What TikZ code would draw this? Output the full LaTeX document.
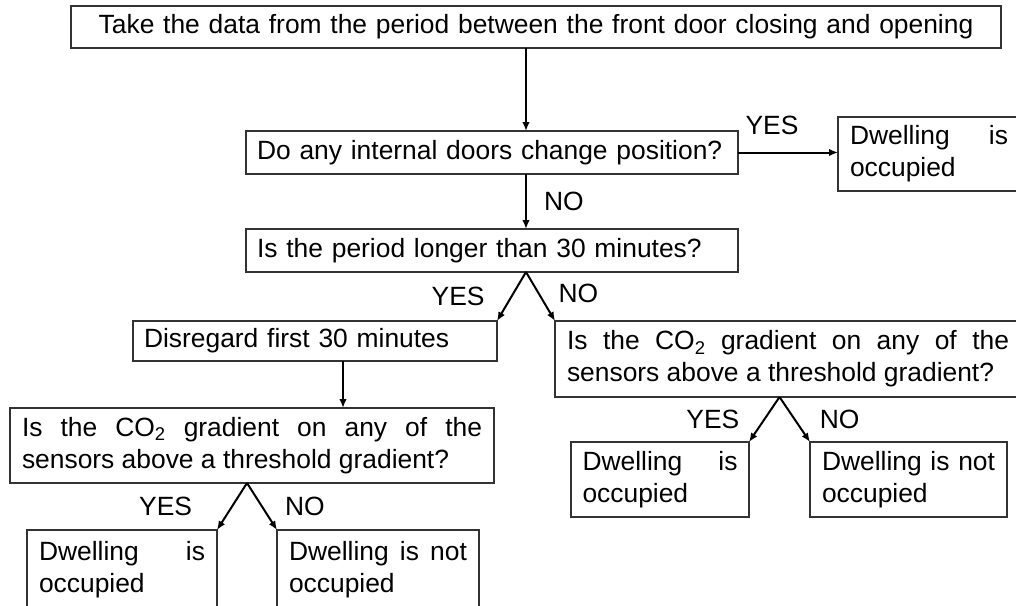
\documentclass[tikz,border=0pt]{standalone}
\usepackage{fontspec}
\setmainfont{Liberation Sans}
\usetikzlibrary{arrows.meta,calc}

\newcommand\boxfont{\fontsize{26.4}{32}\selectfont}
\tikzset{
  >={Latex[length=9pt,width=7.5pt]},
  inner sep=0pt,
  outer sep=0pt,
  stepbox/.style={draw=black!80,line width=1.5pt,anchor=north west,
    font=\boxfont,inner xsep=11pt,inner ysep=0pt},
  leftbox/.style={stepbox,align=left},
  fillbox/.style={stepbox,align=justify,inner xsep=12pt},
  flow/.style={->,line width=2pt},
  answer/.style={font=\boxfont,inner sep=0pt}
}

\begin{document}
\begin{tikzpicture}[x=1pt,y=-1pt]
	%% page frame
	\useasboundingbox (0,0) rectangle (1016,605);
	\clip (0,0) rectangle (1016,605);

	%% the steps
	\node[stepbox,align=center,text width=908pt,minimum height=42pt] (start) at (71,6)
	  {Take the data from the period between the front door closing and opening};
	\node[leftbox,text width=470pt,minimum height=43pt] (doors) at (246,131)
	  {Do any internal doors change position?};
	\node[fillbox,text width=158pt,minimum height=74pt] (occA) at (838,117)
	  {Dwelling is\linebreak occupied};
	\node[leftbox,text width=470pt,minimum height=43pt] (period) at (246,229)
	  {Is the period longer than 30 minutes?};
	\node[leftbox,text width=342pt,minimum height=40pt] (skip) at (133,321)
	  {Disregard first 30 minutes};
	\node[fillbox,text width=442pt,minimum height=76pt] (gradR) at (555,321)
	  {\parfillskip=0pt Is the CO\textsubscript{2} gradient on any of the\linebreak sensors above a threshold gradient?};
	\node[fillbox,text width=460pt,minimum height=75pt] (gradL) at (10,408)
	  {\parfillskip=0pt Is the CO\textsubscript{2} gradient on any of the\linebreak sensors above a threshold gradient?};
	\node[fillbox,text width=166pt,minimum height=80pt] (occL) at (27,530)
	  {Dwelling is\linebreak occupied};
	\node[fillbox,text width=178pt,minimum height=80pt] (notL) at (277,530)
	  {Dwelling is not\linebreak occupied};
	\node[fillbox,inner xsep=11.5pt,text width=155pt,minimum height=75pt] (occR) at (571,442)
	  {Dwelling is\linebreak occupied};
	\node[fillbox,text width=173pt,minimum height=75pt] (notR) at (810,442)
	  {Dwelling is not\linebreak occupied};

	%% fork points
	\coordinate (forkP) at ($(skip.north east)!0.5!(gradR.north west)$);
	\coordinate (forkL) at ($(occL.north east)!0.5!(notL.north west)$);
	\coordinate (forkR) at ($(occR.north east)!0.5!(notR.north west)$);
	\coordinate (dropD) at ([xshift=28pt]skip.south);

	%% connectors
	\draw[flow] (start.south -| forkP) -- (doors.north -| forkP);
	\draw[flow] (doors.east) -- node[answer,pos=0.34,above=18pt] {YES} (doors.east -| occA.west);
	\draw[flow] (doors.south -| forkP) -- node[answer,right=18pt] {NO} (period.north -| forkP);
	\draw[flow] (period.south -| forkP) -- node[answer,left=27pt] {YES} (skip.north east);
	\draw[flow] (period.south -| forkP) -- node[answer,right=18pt,yshift=3pt] {NO} (gradR.north west);
	\draw[flow] (dropD) -- (dropD |- gradL.north);
	\draw[flow] (gradL.south -| forkL) -- node[answer,left=40pt] {YES} (occL.north east);
	\draw[flow] (gradL.south -| forkL) -- node[answer,right=23pt] {NO} (notL.north west);
	\draw[flow] (gradR.south -| forkR) -- node[answer,left=25pt] {YES} (occR.north east);
	\draw[flow] (gradR.south -| forkR) -- node[answer,right=25pt] {NO} (notR.north west);
\end{tikzpicture}
\end{document}
